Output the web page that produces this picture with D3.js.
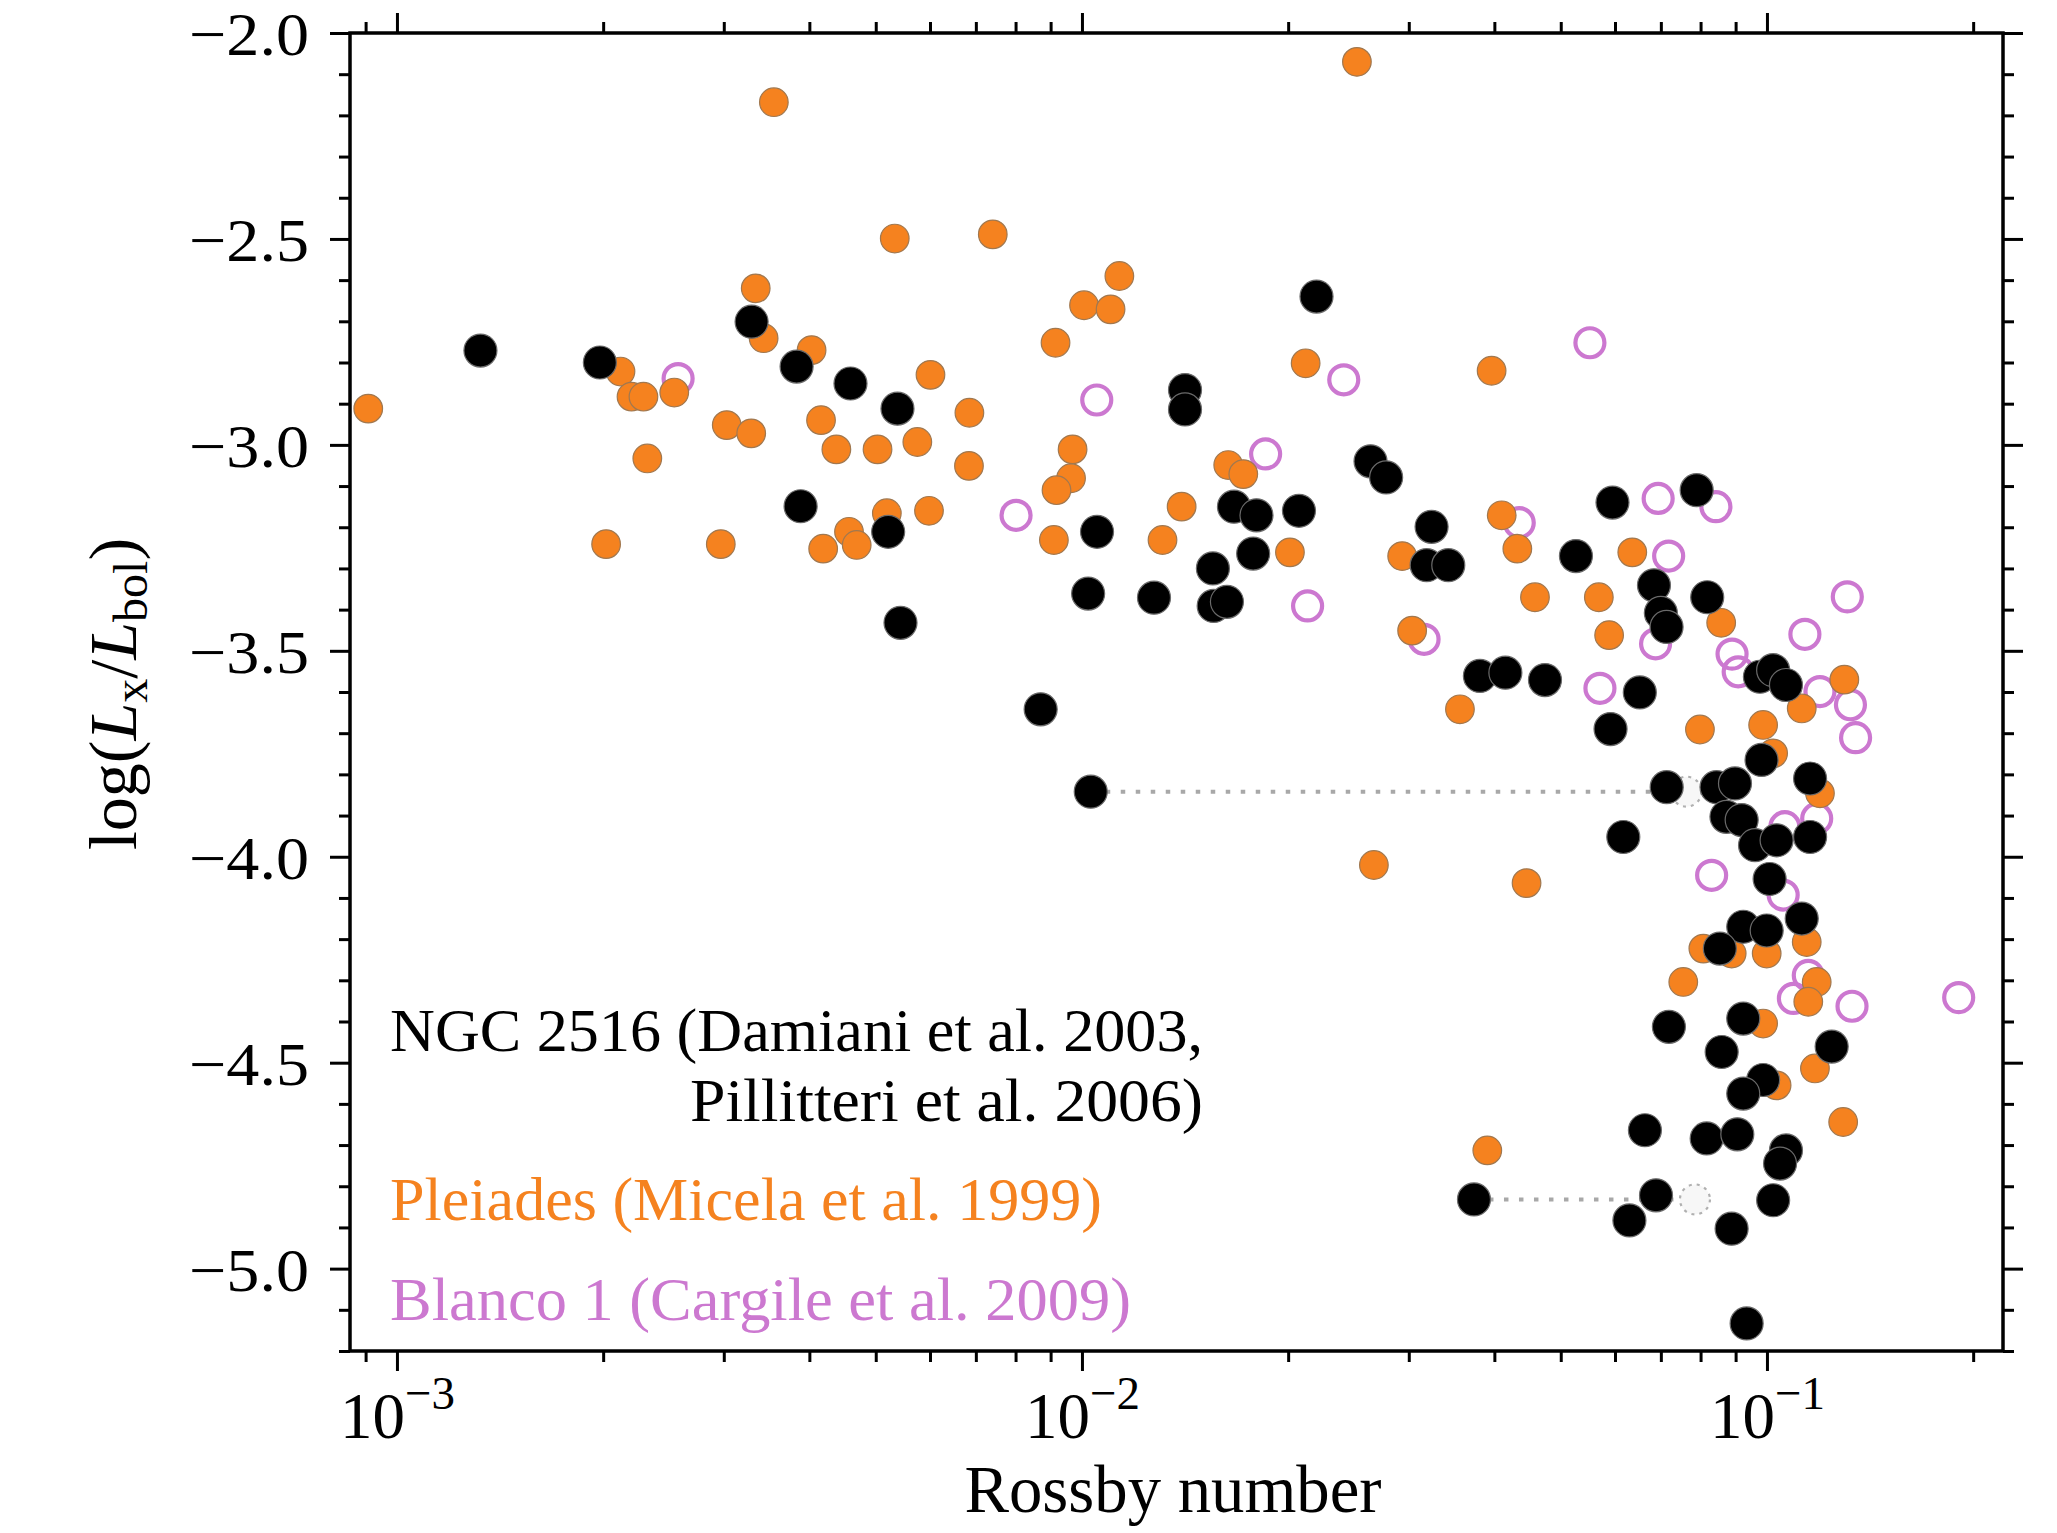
<!DOCTYPE html>
<html>
<head>
<meta charset="utf-8">
<script src="https://cdn.jsdelivr.net/npm/d3@7"></script>
<style>
html, body { margin: 0; padding: 0; background: #ffffff; }
svg { display: block; }
</style>
</head>
<body>
<svg id="chart" width="2057" height="1533"></svg>
<script>
// ---------------- data ----------------
const ngcRossby = [0.001324, 0.001978, 0.003294, 0.003832, 0.003884, 0.004593, 0.005213, 0.005379, 0.005434, 0.008704,
  0.01030, 0.01021, 0.01052, 0.01274, 0.01414, 0.01414, 0.01553, 0.01557, 0.01628, 0.01667,
  0.01778, 0.01798, 0.02074, 0.02200, 0.02638, 0.02780, 0.03239, 0.03186, 0.03426, 0.03810,
  0.04151, 0.04742, 0.03735, 0.05262, 0.05950, 0.05911, 0.06170, 0.06522, 0.06635, 0.06840,
  0.07000, 0.07136, 0.06887, 0.06298, 0.07139, 0.07192, 0.07896, 0.08181, 0.08441, 0.08981,
  0.08727, 0.09185, 0.09607, 0.1033, 0.1156, 0.1009, 0.09766, 0.1021, 0.1066, 0.09820,
  0.1156, 0.09234, 0.09991, 0.1124, 0.08535, 0.09234, 0.08588, 0.1243, 0.09872, 0.09234,
  0.08166, 0.09052, 0.1066, 0.1045, 0.1021, 0.08880, 0.09340];
const ngcLogLx = [-2.771, -2.800, -2.701, -2.810, -3.149, -2.851, -3.211, -2.912, -3.432, -3.642,
  -3.842, -3.361, -3.211, -3.371, -2.867, -2.914, -3.300, -3.391, -3.381, -3.150,
  -3.264, -3.171, -3.160, -2.640, -3.040, -3.079, -3.199, -3.292, -3.292, -3.561,
  -3.553, -3.571, -4.832, -3.270, -3.140, -3.690, -3.952, -3.601, -4.664, -3.341,
  -3.408, -3.442, -4.822, -4.883, -3.831, -4.413, -3.110, -3.370, -3.831, -3.822,
  -3.903, -3.911, -3.972, -3.960, -3.952, -4.054, -3.563, -3.547, -3.583, -3.765,
  -3.810, -4.170, -4.179, -4.150, -4.223, -4.393, -4.474, -4.461, -4.542, -4.575,
  -4.684, -4.674, -4.713, -4.745, -4.834, -4.903, -5.133];

const pleiadesRossby = [0.000908, 0.00355, 0.0252, 0.00212, 0.00220, 0.00229, 0.00254, 0.00232, 0.00202, 0.00297,
  0.00303, 0.00329, 0.00334, 0.00343, 0.00403, 0.00416, 0.00438, 0.00419, 0.00457, 0.00469,
  0.00503, 0.00519, 0.00533, 0.00575, 0.00598, 0.00601, 0.00685, 0.00684, 0.00741, 0.00915,
  0.00969, 0.00964, 0.00918, 0.00910, 0.01007, 0.01101, 0.01134, 0.01311, 0.01398, 0.01635,
  0.01720, 0.02012, 0.02121, 0.02668, 0.02934, 0.03034, 0.03563, 0.03963, 0.04100, 0.04321,
  0.04585, 0.03906, 0.04457, 0.05683, 0.05883, 0.06359, 0.07548, 0.07983, 0.08574, 0.09872,
  0.1021, 0.1124, 0.1297, 0.1195, 0.08075, 0.08882, 0.09991, 0.1143, 0.1182, 0.1149,
  0.09872, 0.1175, 0.1033, 0.1292];
const pleiadesLogLx = [-2.912, -2.168, -2.070, -2.822, -2.883, -2.883, -2.873, -3.033, -3.241, -3.241,
  -2.952, -2.972, -2.620, -2.741, -2.770, -2.940, -3.011, -3.252, -3.211, -3.243,
  -3.011, -3.166, -2.499, -2.993, -3.160, -2.830, -2.922, -3.051, -2.489, -2.752,
  -3.011, -3.081, -3.110, -3.231, -2.661, -2.671, -2.590, -3.231, -3.150, -3.049,
  -3.071, -3.261, -2.802, -4.020, -3.270, -3.451, -3.642, -2.820, -3.171, -3.252,
  -3.370, -4.713, -4.064, -3.370, -3.462, -3.261, -4.304, -3.691, -3.432, -3.680,
  -3.749, -3.640, -3.570, -3.846, -4.223, -4.235, -4.235, -4.207, -4.304, -4.352,
  -4.405, -4.514, -4.555, -4.644];

const blancoRossby = [0.002573, 0.008013, 0.01051, 0.01854, 0.02135, 0.02411, 0.03158, 0.04349, 0.05515, 0.05704,
  0.06937, 0.08423, 0.07186, 0.06877, 0.08893, 0.09078, 0.1136, 0.1310, 0.1195, 0.1324,
  0.1347, 0.1182, 0.1062, 0.08303, 0.1056, 0.1149, 0.1093, 0.1331, 0.1905];
const blancoLogLx = [-2.839, -3.171, -2.891, -3.022, -3.391, -2.842, -3.472, -3.189, -2.752, -3.591,
  -3.130, -3.150, -3.270, -3.483, -3.508, -3.551, -3.460, -3.369, -3.599, -3.631,
  -3.711, -3.907, -3.927, -4.045, -4.093, -4.288, -4.344, -4.363, -4.342];

// NGC 2516 stars whose Rossby number shifts (dotted line to alternative position)
const shiftedFromRossby = [0.01030, 0.03735];
const shiftedToRossby = [0.0763, 0.0785];
const shiftedLogLx = [-3.842, -4.832];

const xMajorTicks = [1e-3, 1e-2, 1e-1];
const xTickExponents = ["\u22123", "\u22122", "\u22121"];
const xMinorTicks = [9e-4, 2e-3, 3e-3, 4e-3, 5e-3, 6e-3, 7e-3, 8e-3, 9e-3,
  2e-2, 3e-2, 4e-2, 5e-2, 6e-2, 7e-2, 8e-2, 9e-2, 2e-1];
const yMajorTicks = [-5.0, -4.5, -4.0, -3.5, -3.0, -2.5, -2.0];
const yTickLabels = ["\u22125.0", "\u22124.5", "\u22124.0", "\u22123.5", "\u22123.0", "\u22122.5", "\u22122.0"];
const yMinorTicks = [-5.2, -5.1, -4.9, -4.8, -4.7, -4.6, -4.4, -4.3, -4.2, -4.1, -3.9, -3.8, -3.7, -3.6,
  -3.4, -3.3, -3.2, -3.1, -2.9, -2.8, -2.7, -2.6, -2.4, -2.3, -2.2, -2.1];

const xLabel = "Rossby number";
const legendNGC1 = "NGC 2516 (Damiani et al. 2003,";
const legendNGC2 = "Pillitteri et al. 2006)";
const legendPleiades = "Pleiades (Micela et al. 1999)";
const legendBlanco = "Blanco 1 (Cargile et al. 2009)";

// ---------------- layout / style ----------------
const FONT = "'Liberation Serif', 'DejaVu Serif', serif";
const COL_ORANGE = "#f5821f";
const COL_PURPLE = "#cc78d0";
const plot = { left: 350, right: 2003, top: 33, bottom: 1351 };

const svg = d3.select("#chart");
svg.append("rect").attr("width", 2057).attr("height", 1533).attr("fill", "#ffffff");

const x = d3.scaleLog().domain([8.54e-4, 0.2211]).range([plot.left, plot.right]);
const y = d3.scaleLinear().domain([-5.2, -2.0]).range([plot.bottom, plot.top]);

function styleAxis(g) {
  g.select(".domain").remove();
  g.selectAll(".tick line").attr("stroke", "#000").attr("stroke-width", 3);
  g.selectAll("text").attr("font-family", FONT).attr("fill", "#000");
}

// Y axes (left with labels, right without)
const gYL = svg.append("g").attr("transform", `translate(${plot.left},0)`)
  .call(d3.axisLeft(y).tickValues(yMajorTicks).tickSize(20).tickPadding(21).tickSizeOuter(0)
    .tickFormat((d, i) => yTickLabels[i]));
styleAxis(gYL);
gYL.selectAll("text").attr("font-size", 61).attr("dy", "0.36em")
  .attr("textLength", 120).attr("lengthAdjust", "spacingAndGlyphs");
svg.append("g").attr("transform", `translate(${plot.left},0)`)
  .call(d3.axisLeft(y).tickValues(yMinorTicks).tickSize(11).tickFormat("").tickSizeOuter(0)).call(styleAxis);
svg.append("g").attr("transform", `translate(${plot.right},0)`)
  .call(d3.axisRight(y).tickValues(yMajorTicks).tickSize(20).tickFormat("").tickSizeOuter(0)).call(styleAxis);
svg.append("g").attr("transform", `translate(${plot.right},0)`)
  .call(d3.axisRight(y).tickValues(yMinorTicks).tickSize(11).tickFormat("").tickSizeOuter(0)).call(styleAxis);

// X axes
const gXB = svg.append("g").attr("transform", `translate(0,${plot.bottom})`)
  .call(d3.axisBottom(x).tickValues(xMajorTicks).tickSize(20).tickFormat("").tickSizeOuter(0));
styleAxis(gXB);
gXB.selectAll(".tick").each(function (d, i) {
  const t = d3.select(this).append("text")
    .attr("font-family", FONT).attr("font-size", 65).attr("fill", "#000")
    .attr("text-anchor", "middle").attr("y", 87);
  t.append("tspan").text("10");
  t.append("tspan").attr("font-size", 47).attr("dy", -29).text(xTickExponents[i]);
});
svg.append("g").attr("transform", `translate(0,${plot.bottom})`)
  .call(d3.axisBottom(x).tickValues(xMinorTicks).tickSize(11).tickFormat("").tickSizeOuter(0)).call(styleAxis);
svg.append("g").attr("transform", `translate(0,${plot.top})`)
  .call(d3.axisTop(x).tickValues(xMajorTicks).tickSize(20).tickFormat("").tickSizeOuter(0)).call(styleAxis);
svg.append("g").attr("transform", `translate(0,${plot.top})`)
  .call(d3.axisTop(x).tickValues(xMinorTicks).tickSize(11).tickFormat("").tickSizeOuter(0)).call(styleAxis);

// ---------------- markers ----------------
const gData = svg.append("g");

// Blanco 1 (open circles)
gData.append("g").selectAll("circle").data(d3.range(blancoRossby.length)).join("circle")
  .attr("cx", i => x(blancoRossby[i])).attr("cy", i => y(blancoLogLx[i]))
  .attr("r", 14.5).attr("fill", "none").attr("stroke", COL_PURPLE).attr("stroke-width", 4.2);

// Pleiades
gData.append("g").selectAll("circle").data(d3.range(pleiadesRossby.length)).join("circle")
  .attr("cx", i => x(pleiadesRossby[i])).attr("cy", i => y(pleiadesLogLx[i]))
  .attr("r", 14.3).attr("fill", COL_ORANGE).attr("stroke", "#a07850").attr("stroke-width", 1.2);

// shifted positions: dotted connectors and ghost markers
gData.append("g").selectAll("line").data(d3.range(shiftedFromRossby.length)).join("line")
  .attr("x1", i => x(shiftedFromRossby[i])).attr("x2", i => x(shiftedToRossby[i]) - 16)
  .attr("y1", i => y(shiftedLogLx[i])).attr("y2", i => y(shiftedLogLx[i]))
  .attr("stroke", "#a8a8a8").attr("stroke-width", 4).attr("stroke-dasharray", "4.5,10.5");
gData.append("g").selectAll("circle").data(d3.range(shiftedToRossby.length)).join("circle")
  .attr("cx", i => x(shiftedToRossby[i])).attr("cy", i => y(shiftedLogLx[i]))
  .attr("r", 15).attr("fill", "#f7f7f7").attr("stroke", "#b0b0b0").attr("stroke-width", 2.2)
  .attr("stroke-dasharray", "3,5");

// NGC 2516
gData.append("g").selectAll("circle").data(d3.range(ngcRossby.length)).join("circle")
  .attr("cx", i => x(ngcRossby[i])).attr("cy", i => y(ngcLogLx[i]))
  .attr("r", 16.5).attr("fill", "#000").attr("stroke", "#6a6a6a").attr("stroke-width", 1.2);

// frame
svg.append("rect").attr("x", plot.left).attr("y", plot.top)
  .attr("width", plot.right - plot.left).attr("height", plot.bottom - plot.top)
  .attr("fill", "none").attr("stroke", "#000").attr("stroke-width", 3.5);

// ---------------- labels ----------------
svg.append("text").attr("x", 1173).attr("y", 1512)
  .attr("text-anchor", "middle").attr("font-family", FONT).attr("font-size", 67).attr("fill", "#000")
  .attr("textLength", 417).attr("lengthAdjust", "spacingAndGlyphs")
  .text(xLabel);

const yl = svg.append("text").attr("transform", "translate(136,694) rotate(-90)")
  .attr("text-anchor", "middle").attr("font-family", FONT).attr("font-size", 68).attr("fill", "#000");
yl.append("tspan").text("log(");
yl.append("tspan").attr("font-style", "italic").text("L");
yl.append("tspan").attr("font-size", 48).attr("dy", 11).text("x");
yl.append("tspan").attr("dy", -11).text("/");
yl.append("tspan").attr("font-style", "italic").text("L");
yl.append("tspan").attr("font-size", 48).attr("dy", 11).text("bol");
yl.append("tspan").attr("dy", -11).text(")");

// legend text
const legend = svg.append("g").attr("font-family", FONT).attr("font-size", 62);
legend.append("text").attr("x", 390).attr("y", 1051).attr("fill", "#000")
  .attr("textLength", 813).attr("lengthAdjust", "spacingAndGlyphs").text(legendNGC1);
legend.append("text").attr("x", 1203).attr("y", 1121).attr("text-anchor", "end").attr("fill", "#000")
  .attr("textLength", 513).attr("lengthAdjust", "spacingAndGlyphs").text(legendNGC2);
legend.append("text").attr("x", 390).attr("y", 1220).attr("fill", COL_ORANGE)
  .attr("textLength", 712).attr("lengthAdjust", "spacingAndGlyphs").text(legendPleiades);
legend.append("text").attr("x", 390).attr("y", 1320).attr("fill", COL_PURPLE)
  .attr("textLength", 741).attr("lengthAdjust", "spacingAndGlyphs").text(legendBlanco);
</script>
</body>
</html>
